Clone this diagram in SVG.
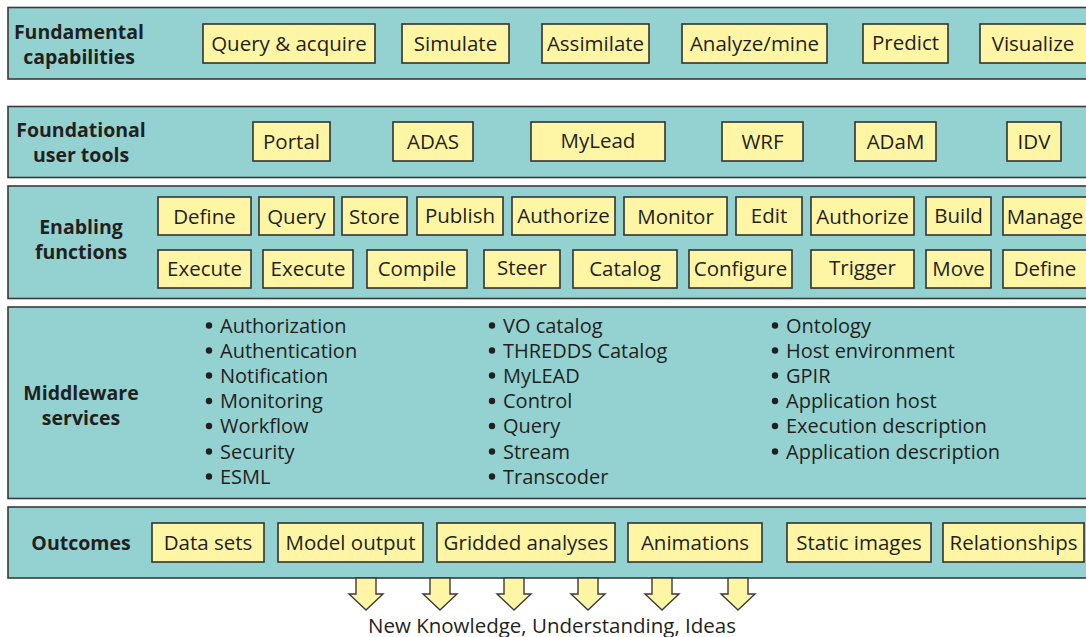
<svg xmlns="http://www.w3.org/2000/svg" width="1086" height="637" viewBox="0 0 1086 637">
  <style>
    .panel { fill: #94d2d1; stroke: #3a3a3a; stroke-width: 1.6; }
    .box { fill: #fff6a5; stroke: #333333; stroke-width: 1.6; }
    .bt { font-family: "Open Sans", "Noto Sans", sans-serif; font-size: 20.5px; fill: #231f20; text-anchor: middle; }
    .lbl { font-family: "Open Sans", "Noto Sans", sans-serif; font-size: 19.5px; font-weight: bold; fill: #231f20; text-anchor: middle; }
    .li { font-family: "Open Sans", "Noto Sans", sans-serif; font-size: 20px; fill: #231f20; }
    .dot { fill: #231f20; }
    .arrow { fill: #fff6a5; stroke: #3a3a3a; stroke-width: 1.4; stroke-linejoin: miter; }
    .foot { font-family: "Open Sans", "Noto Sans", sans-serif; font-size: 20.5px; fill: #231f20; text-anchor: middle; }
  </style>
  <defs>
    <!-- down arrow, origin at the top centre of the shaft -->
    <polygon id="downArrow" class="arrow" points="-10,0 10,0 10,16 17,16 0,32 -17,16 -10,16"/>
  </defs>

  <rect width="1086" height="637" fill="#ffffff"/>

  <!-- Layer: fundamental capabilities -->
  <g id="layer-capabilities">
    <rect class="panel" x="8" y="7.5" width="1090" height="71.5"/>
    <text class="lbl" x="79" y="38.5">Fundamental</text>
    <text class="lbl" x="79" y="63.5">capabilities</text>
    <g id="cap-query"><rect class="box" x="203" y="24" width="172" height="39"/><text class="bt" x="289" y="51">Query &amp; acquire</text></g>
    <g id="cap-simulate"><rect class="box" x="402" y="24" width="107" height="39"/><text class="bt" x="455.5" y="51">Simulate</text></g>
    <g id="cap-assimilate"><rect class="box" x="542" y="24" width="107" height="39"/><text class="bt" x="595.5" y="51">Assimilate</text></g>
    <g id="cap-analyze"><rect class="box" x="682" y="24" width="145" height="39"/><text class="bt" x="754.5" y="51">Analyze/mine</text></g>
    <g id="cap-predict"><rect class="box" x="863" y="24" width="85" height="39"/><text class="bt" x="905.5" y="50">Predict</text></g>
    <g id="cap-visualize"><rect class="box" x="980" y="24" width="110" height="39"/><text class="bt" x="1033" y="51">Visualize</text></g>
  </g>

  <!-- Layer: foundational user tools -->
  <g id="layer-tools">
    <rect class="panel" x="8" y="106.5" width="1090" height="71"/>
    <text class="lbl" x="81" y="136.5">Foundational</text>
    <text class="lbl" x="81" y="161.5">user tools</text>
    <g id="tool-portal"><rect class="box" x="253" y="122" width="77" height="39"/><text class="bt" x="291.5" y="149">Portal</text></g>
    <g id="tool-adas"><rect class="box" x="393" y="122" width="80" height="39"/><text class="bt" x="433" y="149">ADAS</text></g>
    <g id="tool-mylead"><rect class="box" x="531" y="122" width="134" height="39"/><text class="bt" x="598" y="148">MyLead</text></g>
    <g id="tool-wrf"><rect class="box" x="722" y="122" width="81" height="39"/><text class="bt" x="762.5" y="149">WRF</text></g>
    <g id="tool-adam"><rect class="box" x="855" y="122" width="81" height="39"/><text class="bt" x="895.5" y="149">ADaM</text></g>
    <g id="tool-idv"><rect class="box" x="1007" y="122" width="54" height="39"/><text class="bt" x="1034" y="149">IDV</text></g>
  </g>

  <!-- Layer: enabling functions -->
  <g id="layer-functions">
    <rect class="panel" x="8" y="186" width="1090" height="112.5"/>
    <text class="lbl" x="81" y="233.5">Enabling</text>
    <text class="lbl" x="81" y="258.5">functions</text>
    <g id="fn-define"><rect class="box" x="158" y="197" width="93" height="38"/><text class="bt" x="204.5" y="223.5">Define</text></g>
    <g id="fn-query"><rect class="box" x="259" y="197" width="75" height="38"/><text class="bt" x="296.5" y="223.5">Query</text></g>
    <g id="fn-store"><rect class="box" x="342" y="197" width="65" height="38"/><text class="bt" x="374.5" y="223.5">Store</text></g>
    <g id="fn-publish"><rect class="box" x="417" y="197" width="86" height="38"/><text class="bt" x="460" y="222.5">Publish</text></g>
    <g id="fn-authorize"><rect class="box" x="512" y="197" width="103" height="38"/><text class="bt" x="563.5" y="222.5">Authorize</text></g>
    <g id="fn-monitor"><rect class="box" x="624" y="197" width="103" height="38"/><text class="bt" x="675.5" y="223.5">Monitor</text></g>
    <g id="fn-edit"><rect class="box" x="736" y="197" width="66" height="38"/><text class="bt" x="769" y="222.5">Edit</text></g>
    <g id="fn-authorize2"><rect class="box" x="811" y="197" width="103" height="38"/><text class="bt" x="862.5" y="223.5">Authorize</text></g>
    <g id="fn-build"><rect class="box" x="926" y="197" width="65" height="38"/><text class="bt" x="958.5" y="222.5">Build</text></g>
    <g id="fn-manage"><rect class="box" x="1003" y="197" width="90" height="38"/><text class="bt" x="1045" y="223.5">Manage</text></g>

    <g id="fn-execute"><rect class="box" x="158" y="250" width="93" height="38"/><text class="bt" x="204.5" y="275.5">Execute</text></g>
    <g id="fn-execute2"><rect class="box" x="263" y="250" width="90" height="38"/><text class="bt" x="308" y="275.5">Execute</text></g>
    <g id="fn-compile"><rect class="box" x="367" y="250" width="100" height="38"/><text class="bt" x="417" y="275.5">Compile</text></g>
    <g id="fn-steer"><rect class="box" x="484" y="250" width="76" height="38"/><text class="bt" x="522" y="274.5">Steer</text></g>
    <g id="fn-catalog"><rect class="box" x="573" y="250" width="104" height="38"/><text class="bt" x="625" y="275.5">Catalog</text></g>
    <g id="fn-configure"><rect class="box" x="689" y="250" width="103" height="38"/><text class="bt" x="740.5" y="275.5">Configure</text></g>
    <g id="fn-trigger"><rect class="box" x="811" y="250" width="103" height="38"/><text class="bt" x="862.5" y="274.5">Trigger</text></g>
    <g id="fn-move"><rect class="box" x="926" y="250" width="65" height="38"/><text class="bt" x="958.5" y="275.5">Move</text></g>
    <g id="fn-define2"><rect class="box" x="1003" y="250" width="90" height="38"/><text class="bt" x="1045" y="275.5">Define</text></g>
  </g>

  <!-- Layer: middleware services -->
  <g id="layer-middleware">
    <rect class="panel" x="8" y="307" width="1090" height="191.5"/>
    <text class="lbl" x="81" y="399.5">Middleware</text>
    <text class="lbl" x="81" y="424.5">services</text>
    <g id="mw-col1">
      <circle class="dot" cx="209" cy="325.5" r="3.2"/><text class="li" x="220" y="332.5">Authorization</text>
      <circle class="dot" cx="209" cy="350.5" r="3.2"/><text class="li" x="220" y="357.5">Authentication</text>
      <circle class="dot" cx="209" cy="375.5" r="3.2"/><text class="li" x="220" y="382.5">Notification</text>
      <circle class="dot" cx="209" cy="401" r="3.2"/><text class="li" x="220" y="408">Monitoring</text>
      <circle class="dot" cx="209" cy="426" r="3.2"/><text class="li" x="220" y="433">Workflow</text>
      <circle class="dot" cx="209" cy="451.5" r="3.2"/><text class="li" x="220" y="458.5">Security</text>
      <circle class="dot" cx="209" cy="476.5" r="3.2"/><text class="li" x="220" y="483.5">ESML</text>
    </g>
    <g id="mw-col2">
      <circle class="dot" cx="492" cy="325.5" r="3.2"/><text class="li" x="503" y="332.5">VO catalog</text>
      <circle class="dot" cx="492" cy="350.5" r="3.2"/><text class="li" x="503" y="357.5">THREDDS Catalog</text>
      <circle class="dot" cx="492" cy="375.5" r="3.2"/><text class="li" x="503" y="382.5">MyLEAD</text>
      <circle class="dot" cx="492" cy="401" r="3.2"/><text class="li" x="503" y="408">Control</text>
      <circle class="dot" cx="492" cy="426" r="3.2"/><text class="li" x="503" y="433">Query</text>
      <circle class="dot" cx="492" cy="451.5" r="3.2"/><text class="li" x="503" y="458.5">Stream</text>
      <circle class="dot" cx="492" cy="476.5" r="3.2"/><text class="li" x="503" y="483.5">Transcoder</text>
    </g>
    <g id="mw-col3">
      <circle class="dot" cx="775" cy="325.5" r="3.2"/><text class="li" x="786" y="332.5">Ontology</text>
      <circle class="dot" cx="775" cy="350.5" r="3.2"/><text class="li" x="786" y="357.5">Host environment</text>
      <circle class="dot" cx="775" cy="375.5" r="3.2"/><text class="li" x="786" y="382.5">GPIR</text>
      <circle class="dot" cx="775" cy="401" r="3.2"/><text class="li" x="786" y="408">Application host</text>
      <circle class="dot" cx="775" cy="426" r="3.2"/><text class="li" x="786" y="433">Execution description</text>
      <circle class="dot" cx="775" cy="451.5" r="3.2"/><text class="li" x="786" y="458.5">Application description</text>
    </g>
  </g>

  <!-- Layer: outcomes -->
  <g id="layer-outcomes">
    <rect class="panel" x="8" y="507" width="1090" height="71"/>
    <text class="lbl" x="81" y="549.5">Outcomes</text>
    <g id="out-datasets"><rect class="box" x="152" y="523" width="112" height="39"/><text class="bt" x="208" y="550">Data sets</text></g>
    <g id="out-model"><rect class="box" x="278" y="523" width="145" height="39"/><text class="bt" x="350.5" y="550">Model output</text></g>
    <g id="out-gridded"><rect class="box" x="437" y="523" width="178" height="39"/><text class="bt" x="526" y="550">Gridded analyses</text></g>
    <g id="out-animations"><rect class="box" x="628" y="523" width="134" height="39"/><text class="bt" x="695" y="550">Animations</text></g>
    <g id="out-static"><rect class="box" x="787" y="523" width="144" height="39"/><text class="bt" x="859" y="550">Static images</text></g>
    <g id="out-relationships"><rect class="box" x="943" y="523" width="141" height="39"/><text class="bt" x="1013.5" y="550">Relationships</text></g>
  </g>

  <!-- Connectors: outcomes flowing down into new knowledge -->
  <g id="connectors">
    <use href="#downArrow" x="366" y="578"/>
    <use href="#downArrow" x="440" y="578"/>
    <use href="#downArrow" x="514" y="578"/>
    <use href="#downArrow" x="588" y="578"/>
    <use href="#downArrow" x="662" y="578"/>
    <use href="#downArrow" x="738" y="578"/>
  </g>

  <g id="result">
    <text class="foot" x="552" y="633">New Knowledge, Understanding, Ideas</text>
  </g>
</svg>
